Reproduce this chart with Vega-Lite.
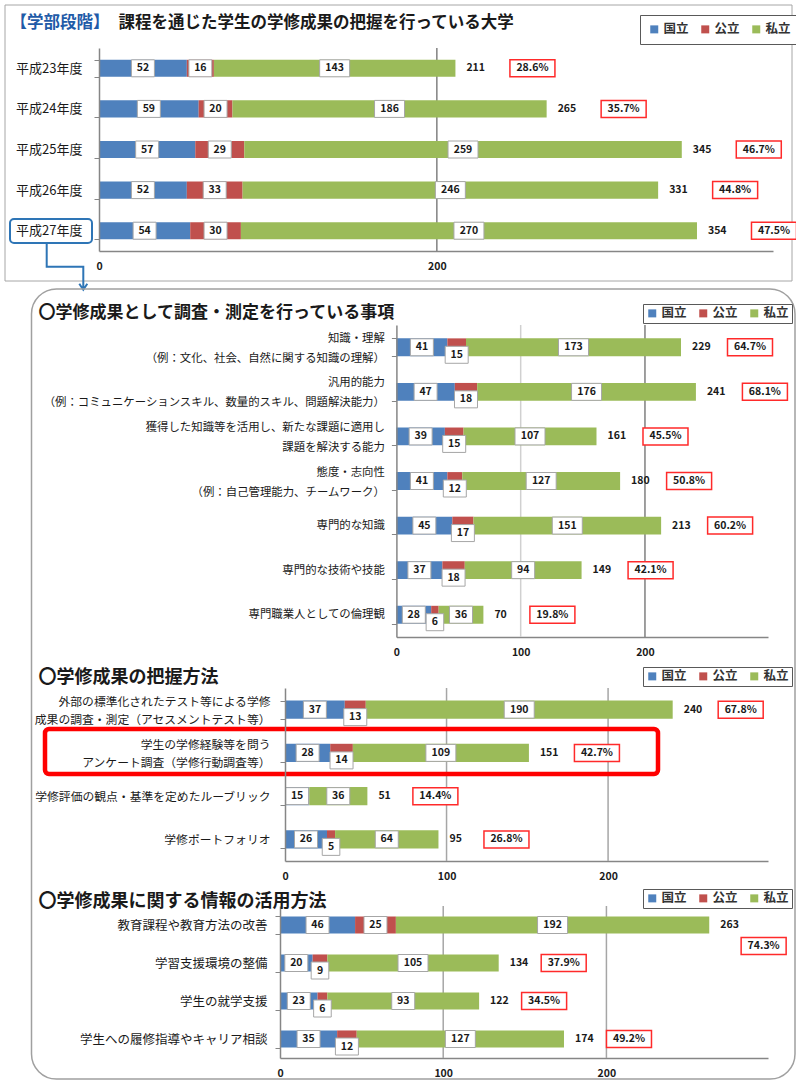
{
 "$schema": "https://vega.github.io/schema/vega-lite/v6.json",
 "autosize": {"type": "none"},
 "width": 796,
 "height": 1081,
 "padding": 0,
 "background": "white",
 "config": {
  "font": "Noto Sans CJK JP",
  "view": {"stroke": null},
  "axis": {"domainColor": "#868686", "domainWidth": 1.5, "tickColor": "#868686", "labelColor": "#1a1a1a", "titleColor": "#1a1a1a", "titleFontWeight": "bold", "labelLimit": 600, "titleLimit": 1000, "titleAngle": 0, "titleAlign": "left", "titleBaseline": "middle", "grid": false},
  "legend": {"orient": "none", "direction": "horizontal", "strokeColor": "#595959", "fillColor": "white", "symbolType": "square", "symbolSize": 64, "symbolStrokeWidth": 0, "labelFontSize": 12.5, "labelFontWeight": "bold", "labelColor": "#333333", "columnPadding": 10, "labelOffset": 3}
 },
 "datasets": {
  "seg1": [
   {"cat": "平成23年度", "s": "国立", "v": 52}, {"cat": "平成23年度", "s": "公立", "v": 16}, {"cat": "平成23年度", "s": "私立", "v": 143},
   {"cat": "平成24年度", "s": "国立", "v": 59}, {"cat": "平成24年度", "s": "公立", "v": 20}, {"cat": "平成24年度", "s": "私立", "v": 186},
   {"cat": "平成25年度", "s": "国立", "v": 57}, {"cat": "平成25年度", "s": "公立", "v": 29}, {"cat": "平成25年度", "s": "私立", "v": 259},
   {"cat": "平成26年度", "s": "国立", "v": 52}, {"cat": "平成26年度", "s": "公立", "v": 33}, {"cat": "平成26年度", "s": "私立", "v": 246},
   {"cat": "平成27年度", "s": "国立", "v": 54}, {"cat": "平成27年度", "s": "公立", "v": 30}, {"cat": "平成27年度", "s": "私立", "v": 270}
  ],
  "tot1": [
   {"cat": "平成23年度", "total": 211, "pct": "28.6%"},
   {"cat": "平成24年度", "total": 265, "pct": "35.7%"},
   {"cat": "平成25年度", "total": 345, "pct": "46.7%"},
   {"cat": "平成26年度", "total": 331, "pct": "44.8%"},
   {"cat": "平成27年度", "total": 354, "pct": "47.5%"}
  ],
  "seg2": [
   {"cat": "知識・理解\n（例：文化、社会、自然に関する知識の理解）", "s": "国立", "v": 41},
   {"cat": "知識・理解\n（例：文化、社会、自然に関する知識の理解）", "s": "公立", "v": 15},
   {"cat": "知識・理解\n（例：文化、社会、自然に関する知識の理解）", "s": "私立", "v": 173},
   {"cat": "汎用的能力\n（例：コミュニケーションスキル、数量的スキル、問題解決能力）", "s": "国立", "v": 47},
   {"cat": "汎用的能力\n（例：コミュニケーションスキル、数量的スキル、問題解決能力）", "s": "公立", "v": 18},
   {"cat": "汎用的能力\n（例：コミュニケーションスキル、数量的スキル、問題解決能力）", "s": "私立", "v": 176},
   {"cat": "獲得した知識等を活用し、新たな課題に適用し\n課題を解決する能力", "s": "国立", "v": 39},
   {"cat": "獲得した知識等を活用し、新たな課題に適用し\n課題を解決する能力", "s": "公立", "v": 15},
   {"cat": "獲得した知識等を活用し、新たな課題に適用し\n課題を解決する能力", "s": "私立", "v": 107},
   {"cat": "態度・志向性\n（例：自己管理能力、チームワーク）", "s": "国立", "v": 41},
   {"cat": "態度・志向性\n（例：自己管理能力、チームワーク）", "s": "公立", "v": 12},
   {"cat": "態度・志向性\n（例：自己管理能力、チームワーク）", "s": "私立", "v": 127},
   {"cat": "専門的な知識", "s": "国立", "v": 45}, {"cat": "専門的な知識", "s": "公立", "v": 17}, {"cat": "専門的な知識", "s": "私立", "v": 151},
   {"cat": "専門的な技術や技能", "s": "国立", "v": 37}, {"cat": "専門的な技術や技能", "s": "公立", "v": 18}, {"cat": "専門的な技術や技能", "s": "私立", "v": 94},
   {"cat": "専門職業人としての倫理観", "s": "国立", "v": 28}, {"cat": "専門職業人としての倫理観", "s": "公立", "v": 6}, {"cat": "専門職業人としての倫理観", "s": "私立", "v": 36}
  ],
  "tot2": [
   {"cat": "知識・理解\n（例：文化、社会、自然に関する知識の理解）", "total": 229, "pct": "64.7%"},
   {"cat": "汎用的能力\n（例：コミュニケーションスキル、数量的スキル、問題解決能力）", "total": 241, "pct": "68.1%"},
   {"cat": "獲得した知識等を活用し、新たな課題に適用し\n課題を解決する能力", "total": 161, "pct": "45.5%"},
   {"cat": "態度・志向性\n（例：自己管理能力、チームワーク）", "total": 180, "pct": "50.8%"},
   {"cat": "専門的な知識", "total": 213, "pct": "60.2%"},
   {"cat": "専門的な技術や技能", "total": 149, "pct": "42.1%"},
   {"cat": "専門職業人としての倫理観", "total": 70, "pct": "19.8%"}
  ],
  "seg3": [
   {"cat": "外部の標準化されたテスト等による学修\n成果の調査・測定（アセスメントテスト等）", "s": "国立", "v": 37},
   {"cat": "外部の標準化されたテスト等による学修\n成果の調査・測定（アセスメントテスト等）", "s": "公立", "v": 13},
   {"cat": "外部の標準化されたテスト等による学修\n成果の調査・測定（アセスメントテスト等）", "s": "私立", "v": 190},
   {"cat": "学生の学修経験等を問う\nアンケート調査（学修行動調査等）", "s": "国立", "v": 28},
   {"cat": "学生の学修経験等を問う\nアンケート調査（学修行動調査等）", "s": "公立", "v": 14},
   {"cat": "学生の学修経験等を問う\nアンケート調査（学修行動調査等）", "s": "私立", "v": 109},
   {"cat": "学修評価の観点・基準を定めたルーブリック", "s": "国立", "v": 15},
   {"cat": "学修評価の観点・基準を定めたルーブリック", "s": "私立", "v": 36},
   {"cat": "学修ポートフォリオ", "s": "国立", "v": 26}, {"cat": "学修ポートフォリオ", "s": "公立", "v": 5}, {"cat": "学修ポートフォリオ", "s": "私立", "v": 64}
  ],
  "tot3": [
   {"cat": "外部の標準化されたテスト等による学修\n成果の調査・測定（アセスメントテスト等）", "total": 240, "pct": "67.8%"},
   {"cat": "学生の学修経験等を問う\nアンケート調査（学修行動調査等）", "total": 151, "pct": "42.7%"},
   {"cat": "学修評価の観点・基準を定めたルーブリック", "total": 51, "pct": "14.4%"},
   {"cat": "学修ポートフォリオ", "total": 95, "pct": "26.8%"}
  ],
  "seg4": [
   {"cat": "教育課程や教育方法の改善", "s": "国立", "v": 46}, {"cat": "教育課程や教育方法の改善", "s": "公立", "v": 25}, {"cat": "教育課程や教育方法の改善", "s": "私立", "v": 192},
   {"cat": "学習支援環境の整備", "s": "国立", "v": 20}, {"cat": "学習支援環境の整備", "s": "公立", "v": 9}, {"cat": "学習支援環境の整備", "s": "私立", "v": 105},
   {"cat": "学生の就学支援", "s": "国立", "v": 23}, {"cat": "学生の就学支援", "s": "公立", "v": 6}, {"cat": "学生の就学支援", "s": "私立", "v": 93},
   {"cat": "学生への履修指導やキャリア相談", "s": "国立", "v": 35}, {"cat": "学生への履修指導やキャリア相談", "s": "公立", "v": 12}, {"cat": "学生への履修指導やキャリア相談", "s": "私立", "v": 127}
  ],
  "tot4": [
   {"cat": "教育課程や教育方法の改善", "total": 263, "pct": "74.3%"},
   {"cat": "学習支援環境の整備", "total": 134, "pct": "37.9%"},
   {"cat": "学生の就学支援", "total": 122, "pct": "34.5%"},
   {"cat": "学生への履修指導やキャリア相談", "total": 174, "pct": "49.2%"}
  ]
 },
 "layer": [
  {
   "layer": [
    {
     "data": {"name": "tot1"},
     "transform": [{"filter": "datum.cat === '平成23年度'"}],
     "mark": {"type": "point", "filled": false, "stroke": "#a6a6a6", "strokeWidth": 1, "opacity": 1, "size": 400, "shape": "M-9.4,-6.33H69.3V21.27H-9.4Z"},
     "encoding": {"x": {"datum": 0, "type": "quantitative"}, "y": {"field": "cat", "type": "nominal"}}
    },
    {
     "data": {"name": "tot1"},
     "transform": [{"filter": "datum.cat === '平成23年度'"}],
     "mark": {"type": "rule", "color": "#808080", "strokeWidth": 1.5, "yOffset": -20.3, "y2Offset": 20.3},
     "encoding": {"x": {"datum": 200, "type": "quantitative"}, "y": {"field": "cat", "type": "nominal"}, "y2": {"datum": "平成27年度"}}
    },
    {
     "data": {"name": "seg1"},
     "transform": [{"stack": "v", "groupby": ["cat"], "as": ["v0", "v1"]}],
     "mark": {"type": "bar"},
     "encoding": {
      "y": {"field": "cat", "type": "nominal", "scale": {"type": "band", "domain": ["平成23年度", "平成24年度", "平成25年度", "平成26年度", "平成27年度"], "range": [48, 251], "paddingInner": 0.58, "paddingOuter": 0.29},
       "axis": {"orient": "left", "offset": -99, "tickBand": "extent", "tickSize": 5, "labelPadding": 12, "labelFontSize": 13, "zindex": 1, "title": "【学部段階】", "titleX": -89, "titleY": 22, "titleFontSize": 16.5, "titleColor": "#1f5ba8"}},
      "x": {"field": "v0", "type": "quantitative", "scale": {"domain": [0, 399], "range": [99, 773], "nice": false, "zero": false},
       "axis": {"orient": "bottom", "offset": -830, "values": [0, 200], "grid": false, "ticks": false, "labelPadding": 10, "labelFontSize": 10.5, "labelFontWeight": "bold", "labelFlush": false, "title": "課程を通じた学生の学修成果の把握を行っている大学", "titleX": 118, "titleY": -229, "titleFontSize": 16.5}},
      "x2": {"field": "v1"},
      "color": {"field": "s", "type": "nominal", "scale": {"domain": ["国立", "公立", "私立"], "range": ["#4F81BD", "#C0504D", "#9BBB59"]}, "legend": {"title": null, "legendX": 640, "legendY": 15, "padding": 8}}
     }
    },
    {
     "data": {"name": "seg1"},
     "transform": [{"stack": "v", "groupby": ["cat"], "as": ["v0", "v1"]}, {"fold": ["v0", "v1"], "as": ["edge", "pos"]}, {"aggregate": [{"op": "mean", "field": "pos", "as": "mid"}], "groupby": ["cat", "s", "v"]}],
     "mark": {"type": "point", "filled": true, "fill": "white", "stroke": "#a6a6a6", "strokeWidth": 1, "opacity": 1, "size": 400},
     "encoding": {
      "x": {"field": "mid", "type": "quantitative"},
      "y": {"field": "cat", "type": "nominal"},
      "shape": {"condition": [{"test": "datum.v >= 100", "value": "M-1.5,-0.85H1.5V0.85H-1.5Z"}, {"test": "datum.v < 10", "value": "M-0.88,-0.85H0.88V0.85H-0.88Z"}], "value": "M-1.15,-0.85H1.15V0.85H-1.15Z"}
     }
    },
    {
     "data": {"name": "seg1"},
     "transform": [{"stack": "v", "groupby": ["cat"], "as": ["v0", "v1"]}, {"fold": ["v0", "v1"], "as": ["edge", "pos"]}, {"aggregate": [{"op": "mean", "field": "pos", "as": "mid"}], "groupby": ["cat", "s", "v"]}],
     "mark": {"type": "text", "fontSize": 10.5, "fontWeight": "bold", "color": "#1a1a1a"},
     "encoding": {"x": {"field": "mid", "type": "quantitative"}, "y": {"field": "cat", "type": "nominal"}, "text": {"field": "v", "type": "quantitative"}}
    },
    {
     "data": {"name": "tot1"},
     "mark": {"type": "text", "align": "left", "dx": 11, "fontSize": 10.5, "fontWeight": "bold", "color": "#1a1a1a"},
     "encoding": {"x": {"field": "total", "type": "quantitative"}, "y": {"field": "cat", "type": "nominal"}, "text": {"field": "total", "type": "quantitative"}}
    },
    {
     "data": {"name": "tot1"},
     "mark": {"type": "point", "filled": true, "fill": "white", "stroke": "#ff2a2a", "strokeWidth": 1.5, "opacity": 1, "size": 400, "shape": "M5.45,-0.85H9.95V0.85H5.45Z"},
     "encoding": {"x": {"field": "total", "type": "quantitative"}, "y": {"field": "cat", "type": "nominal"}}
    },
    {
     "data": {"name": "tot1"},
     "mark": {"type": "text", "align": "center", "dx": 77, "fontSize": 10.5, "fontWeight": "bold", "color": "#1a1a1a"},
     "encoding": {"x": {"field": "total", "type": "quantitative"}, "y": {"field": "cat", "type": "nominal"}, "text": {"field": "pct"}}
    },
    {
     "data": {"name": "tot1"},
     "transform": [{"filter": "datum.cat === '平成27年度'"}],
     "mark": {"type": "point", "filled": false, "stroke": "#2e75b6", "strokeWidth": 2, "opacity": 1, "size": 400, "shape": "M-8.5,-1.17H-1.1A0.4,0.4 0 0 1 -0.7,-0.77V0.83A0.4,0.4 0 0 1 -1.1,1.23H-8.5A0.4,0.4 0 0 1 -8.9,0.83V-0.77A0.4,0.4 0 0 1 -8.5,-1.17Z M-5.23,1.23V3.6H-1.57V5.85 M-1.97,5.3L-1.57,5.9L-1.17,5.3"},
     "encoding": {"x": {"datum": 0, "type": "quantitative"}, "y": {"field": "cat", "type": "nominal"}}
    }
   ]
  },
  {
   "layer": [
    {
     "data": {"name": "tot2"},
     "transform": [{"filter": "indexof(datum.cat, '知識・理解') === 0"}],
     "mark": {"type": "point", "filled": false, "stroke": "#a0a0a0", "strokeWidth": 1.5, "opacity": 1, "size": 400, "shape": "M-33.99,-5.83H37.36A2.5,2.5 0 0 1 39.86,-3.33V70.67A2.5,2.5 0 0 1 37.36,73.17H-33.99A2.5,2.5 0 0 1 -36.49,70.67V-3.33A2.5,2.5 0 0 1 -33.99,-5.83Z"},
     "encoding": {"x": {"datum": 0, "type": "quantitative"}, "y": {"field": "cat", "type": "nominal"}}
    },
    {
     "data": {"name": "tot2"},
     "transform": [{"filter": "indexof(datum.cat, '知識・理解') === 0"}],
     "mark": {"type": "rule", "color": "#d0d0d0", "strokeWidth": 1.5, "yOffset": -22.3, "y2Offset": 22.3},
     "encoding": {"x": {"datum": 100, "type": "quantitative"}, "y": {"field": "cat", "type": "nominal"}, "y2": {"datum": "専門職業人としての倫理観"}}
    },
    {
     "data": {"name": "tot2"},
     "transform": [{"filter": "indexof(datum.cat, '知識・理解') === 0"}],
     "mark": {"type": "rule", "color": "#7f7f7f", "strokeWidth": 1.5, "yOffset": -22.3, "y2Offset": 22.3},
     "encoding": {"x": {"datum": 200, "type": "quantitative"}, "y": {"field": "cat", "type": "nominal"}, "y2": {"datum": "専門職業人としての倫理観"}}
    },
    {
     "data": {"name": "seg2"},
     "transform": [{"stack": "v", "groupby": ["cat"], "as": ["v0", "v1"]}],
     "mark": {"type": "bar"},
     "encoding": {
      "y": {"field": "cat", "type": "nominal", "scale": {"type": "band", "domain": ["知識・理解\n（例：文化、社会、自然に関する知識の理解）", "汎用的能力\n（例：コミュニケーションスキル、数量的スキル、問題解決能力）", "獲得した知識等を活用し、新たな課題に適用し\n課題を解決する能力", "態度・志向性\n（例：自己管理能力、チームワーク）", "専門的な知識", "専門的な技術や技能", "専門職業人としての倫理観"], "range": [325, 637], "paddingInner": 0.6, "paddingOuter": 0.3},
       "axis": {"orient": "left", "offset": -396.4, "tickBand": "extent", "tickSize": 5, "labelPadding": 7, "labelFontSize": 11.4, "labelLineHeight": 20, "labelExpr": "split(datum.label, '\\n')", "labelOffset": {"condition": {"test": "indexof(datum.label, '\\n') >= 0", "value": -9}, "value": 0}, "zindex": 1, "title": "〇学修成果として調査・測定を行っている事項", "titleX": -358.4, "titleY": 312.7, "titleFontSize": 17}},
      "x": {"field": "v0", "type": "quantitative", "scale": {"domain": [0, 299], "range": [396.4, 768], "nice": false, "zero": false},
       "axis": {"orient": "bottom", "offset": -444, "values": [0, 100, 200], "grid": false, "ticks": false, "labelPadding": 10, "labelFontSize": 10.5, "labelFontWeight": "bold", "labelFlush": false, "title": null}},
      "x2": {"field": "v1"},
      "color": {"field": "s", "type": "nominal", "scale": {"domain": ["国立", "公立", "私立"], "range": ["#4F81BD", "#C0504D", "#9BBB59"]}, "legend": {"title": null, "legendX": 643, "legendY": 304, "padding": 3}}
     }
    },
    {
     "data": {"name": "seg2"},
     "transform": [{"stack": "v", "groupby": ["cat"], "as": ["v0", "v1"]}, {"fold": ["v0", "v1"], "as": ["edge", "pos"]}, {"aggregate": [{"op": "mean", "field": "pos", "as": "mid"}], "groupby": ["cat", "s", "v"]}],
     "mark": {"type": "point", "filled": true, "fill": "white", "stroke": "#a6a6a6", "strokeWidth": 1, "opacity": 1, "size": 400},
     "encoding": {
      "x": {"field": "mid", "type": "quantitative"},
      "y": {"field": "cat", "type": "nominal"},
      "shape": {"condition": [{"test": "datum.s === '公立' && datum.v < 10", "value": "M-0.88,-0.1H0.88V1.6H-0.88Z"}, {"test": "datum.s === '公立' && datum.v < 20", "value": "M-1.15,-0.1H1.15V1.6H-1.15Z"}, {"test": "datum.v >= 100", "value": "M-1.5,-0.85H1.5V0.85H-1.5Z"}, {"test": "datum.v < 10", "value": "M-0.88,-0.85H0.88V0.85H-0.88Z"}], "value": "M-1.15,-0.85H1.15V0.85H-1.15Z"}
     }
    },
    {
     "data": {"name": "seg2"},
     "transform": [{"stack": "v", "groupby": ["cat"], "as": ["v0", "v1"]}, {"fold": ["v0", "v1"], "as": ["edge", "pos"]}, {"aggregate": [{"op": "mean", "field": "pos", "as": "mid"}], "groupby": ["cat", "s", "v"]}, {"filter": "!(datum.s === '公立' && datum.v < 20)"}],
     "mark": {"type": "text", "fontSize": 10.5, "fontWeight": "bold", "color": "#1a1a1a"},
     "encoding": {"x": {"field": "mid", "type": "quantitative"}, "y": {"field": "cat", "type": "nominal"}, "text": {"field": "v", "type": "quantitative"}}
    },
    {
     "data": {"name": "seg2"},
     "transform": [{"stack": "v", "groupby": ["cat"], "as": ["v0", "v1"]}, {"fold": ["v0", "v1"], "as": ["edge", "pos"]}, {"aggregate": [{"op": "mean", "field": "pos", "as": "mid"}], "groupby": ["cat", "s", "v"]}, {"filter": "datum.s === '公立' && datum.v < 20"}],
     "mark": {"type": "text", "fontSize": 10.5, "fontWeight": "bold", "color": "#1a1a1a", "dy": 7.5},
     "encoding": {"x": {"field": "mid", "type": "quantitative"}, "y": {"field": "cat", "type": "nominal"}, "text": {"field": "v", "type": "quantitative"}}
    },
    {
     "data": {"name": "tot2"},
     "mark": {"type": "text", "align": "left", "dx": 11, "fontSize": 10.5, "fontWeight": "bold", "color": "#1a1a1a"},
     "encoding": {"x": {"field": "total", "type": "quantitative"}, "y": {"field": "cat", "type": "nominal"}, "text": {"field": "total", "type": "quantitative"}}
    },
    {
     "data": {"name": "tot2"},
     "mark": {"type": "point", "filled": true, "fill": "white", "stroke": "#ff2a2a", "strokeWidth": 1.5, "opacity": 1, "size": 400, "shape": "M4.65,-0.85H9.15V0.85H4.65Z"},
     "encoding": {"x": {"field": "total", "type": "quantitative"}, "y": {"field": "cat", "type": "nominal"}}
    },
    {
     "data": {"name": "tot2"},
     "mark": {"type": "text", "align": "center", "dx": 69, "fontSize": 10.5, "fontWeight": "bold", "color": "#1a1a1a"},
     "encoding": {"x": {"field": "total", "type": "quantitative"}, "y": {"field": "cat", "type": "nominal"}, "text": {"field": "pct"}}
    }
   ]
  },
  {
   "layer": [
    {
     "data": {"name": "tot3"},
     "transform": [{"filter": "indexof(datum.cat, '外部の') === 0"}],
     "mark": {"type": "rule", "color": "#a6a6a6", "strokeWidth": 1.5, "yOffset": -21.6, "y2Offset": 21.6},
     "encoding": {"x": {"datum": 100, "type": "quantitative"}, "y": {"field": "cat", "type": "nominal"}, "y2": {"datum": "学修ポートフォリオ"}}
    },
    {
     "data": {"name": "tot3"},
     "transform": [{"filter": "indexof(datum.cat, '外部の') === 0"}],
     "mark": {"type": "rule", "color": "#a6a6a6", "strokeWidth": 1.5, "yOffset": -21.6, "y2Offset": 21.6},
     "encoding": {"x": {"datum": 200, "type": "quantitative"}, "y": {"field": "cat", "type": "nominal"}, "y2": {"datum": "学修ポートフォリオ"}}
    },
    {
     "data": {"name": "seg3"},
     "transform": [{"stack": "v", "groupby": ["cat"], "as": ["v0", "v1"]}],
     "mark": {"type": "bar"},
     "encoding": {
      "y": {"field": "cat", "type": "nominal", "scale": {"type": "band", "domain": ["外部の標準化されたテスト等による学修\n成果の調査・測定（アセスメントテスト等）", "学生の学修経験等を問う\nアンケート調査（学修行動調査等）", "学修評価の観点・基準を定めたルーブリック", "学修ポートフォリオ"], "range": [688, 861], "paddingInner": 0.58, "paddingOuter": 0.29},
       "axis": {"orient": "left", "offset": -285, "tickBand": "extent", "tickSize": 5, "labelPadding": 10, "labelFontSize": 11.8, "labelLineHeight": 18.5, "labelExpr": "split(datum.label, '\\n')", "labelOffset": {"condition": {"test": "indexof(datum.label, '\\n') >= 0", "value": -8.5}, "value": 0}, "zindex": 1, "title": "〇学修成果の把握方法", "titleX": -247, "titleY": 677, "titleFontSize": 18}},
      "x": {"field": "v0", "type": "quantitative", "scale": {"domain": [0, 299], "range": [285, 768], "nice": false, "zero": false},
       "axis": {"orient": "bottom", "offset": -220, "values": [0, 100, 200], "grid": false, "ticks": false, "labelPadding": 10, "labelFontSize": 10.5, "labelFontWeight": "bold", "labelFlush": false, "title": null}},
      "x2": {"field": "v1"},
      "color": {"field": "s", "type": "nominal", "scale": {"domain": ["国立", "公立", "私立"], "range": ["#4F81BD", "#C0504D", "#9BBB59"]}, "legend": {"title": null, "legendX": 643, "legendY": 667, "padding": 3}}
     }
    },
    {
     "data": {"name": "seg3"},
     "transform": [{"stack": "v", "groupby": ["cat"], "as": ["v0", "v1"]}, {"fold": ["v0", "v1"], "as": ["edge", "pos"]}, {"aggregate": [{"op": "mean", "field": "pos", "as": "mid"}], "groupby": ["cat", "s", "v"]}],
     "mark": {"type": "point", "filled": true, "fill": "white", "stroke": "#a6a6a6", "strokeWidth": 1, "opacity": 1, "size": 400},
     "encoding": {
      "x": {"field": "mid", "type": "quantitative"},
      "y": {"field": "cat", "type": "nominal"},
      "shape": {"condition": [{"test": "datum.s === '公立' && datum.v < 10", "value": "M-0.88,-0.1H0.88V1.6H-0.88Z"}, {"test": "datum.s === '公立' && datum.v < 20", "value": "M-1.15,-0.1H1.15V1.6H-1.15Z"}, {"test": "datum.v >= 100", "value": "M-1.5,-0.85H1.5V0.85H-1.5Z"}, {"test": "datum.v < 10", "value": "M-0.88,-0.85H0.88V0.85H-0.88Z"}], "value": "M-1.15,-0.85H1.15V0.85H-1.15Z"}
     }
    },
    {
     "data": {"name": "seg3"},
     "transform": [{"stack": "v", "groupby": ["cat"], "as": ["v0", "v1"]}, {"fold": ["v0", "v1"], "as": ["edge", "pos"]}, {"aggregate": [{"op": "mean", "field": "pos", "as": "mid"}], "groupby": ["cat", "s", "v"]}, {"filter": "!(datum.s === '公立' && datum.v < 20)"}],
     "mark": {"type": "text", "fontSize": 10.5, "fontWeight": "bold", "color": "#1a1a1a"},
     "encoding": {"x": {"field": "mid", "type": "quantitative"}, "y": {"field": "cat", "type": "nominal"}, "text": {"field": "v", "type": "quantitative"}}
    },
    {
     "data": {"name": "seg3"},
     "transform": [{"stack": "v", "groupby": ["cat"], "as": ["v0", "v1"]}, {"fold": ["v0", "v1"], "as": ["edge", "pos"]}, {"aggregate": [{"op": "mean", "field": "pos", "as": "mid"}], "groupby": ["cat", "s", "v"]}, {"filter": "datum.s === '公立' && datum.v < 20"}],
     "mark": {"type": "text", "fontSize": 10.5, "fontWeight": "bold", "color": "#1a1a1a", "dy": 7.5},
     "encoding": {"x": {"field": "mid", "type": "quantitative"}, "y": {"field": "cat", "type": "nominal"}, "text": {"field": "v", "type": "quantitative"}}
    },
    {
     "data": {"name": "tot3"},
     "mark": {"type": "text", "align": "left", "dx": 11, "fontSize": 10.5, "fontWeight": "bold", "color": "#1a1a1a"},
     "encoding": {"x": {"field": "total", "type": "quantitative"}, "y": {"field": "cat", "type": "nominal"}, "text": {"field": "total", "type": "quantitative"}}
    },
    {
     "data": {"name": "tot3"},
     "mark": {"type": "point", "filled": true, "fill": "white", "stroke": "#ff2a2a", "strokeWidth": 1.5, "opacity": 1, "size": 400, "shape": "M4.55,-0.85H9.05V0.85H4.55Z"},
     "encoding": {"x": {"field": "total", "type": "quantitative"}, "y": {"field": "cat", "type": "nominal"}}
    },
    {
     "data": {"name": "tot3"},
     "mark": {"type": "text", "align": "center", "dx": 68, "fontSize": 10.5, "fontWeight": "bold", "color": "#1a1a1a"},
     "encoding": {"x": {"field": "total", "type": "quantitative"}, "y": {"field": "cat", "type": "nominal"}, "text": {"field": "pct"}}
    },
    {
     "data": {"name": "tot3"},
     "transform": [{"filter": "indexof(datum.cat, 'アンケート') >= 0"}],
     "mark": {"type": "point", "filled": false, "stroke": "#ff0000", "strokeWidth": 4.5, "opacity": 1, "size": 400, "shape": "M-23.6,-2.39H36.9A0.4,0.4 0 0 1 37.3,-1.99V1.71A0.4,0.4 0 0 1 36.9,2.11H-23.6A0.4,0.4 0 0 1 -24,1.71V-1.99A0.4,0.4 0 0 1 -23.6,-2.39Z"},
     "encoding": {"x": {"datum": 0, "type": "quantitative"}, "y": {"field": "cat", "type": "nominal"}}
    }
   ]
  },
  {
   "layer": [
    {
     "data": {"name": "tot4"},
     "transform": [{"filter": "datum.cat === '教育課程や教育方法の改善'"}],
     "mark": {"type": "rule", "color": "#a6a6a6", "strokeWidth": 1.5, "yOffset": -19, "y2Offset": 19},
     "encoding": {"x": {"datum": 100, "type": "quantitative"}, "y": {"field": "cat", "type": "nominal"}, "y2": {"datum": "学生への履修指導やキャリア相談"}}
    },
    {
     "data": {"name": "tot4"},
     "transform": [{"filter": "datum.cat === '教育課程や教育方法の改善'"}],
     "mark": {"type": "rule", "color": "#a6a6a6", "strokeWidth": 1.5, "yOffset": -19, "y2Offset": 19},
     "encoding": {"x": {"datum": 200, "type": "quantitative"}, "y": {"field": "cat", "type": "nominal"}, "y2": {"datum": "学生への履修指導やキャリア相談"}}
    },
    {
     "data": {"name": "seg4"},
     "transform": [{"stack": "v", "groupby": ["cat"], "as": ["v0", "v1"]}],
     "mark": {"type": "bar"},
     "encoding": {
      "y": {"field": "cat", "type": "nominal", "scale": {"type": "band", "domain": ["教育課程や教育方法の改善", "学習支援環境の整備", "学生の就学支援", "学生への履修指導やキャリア相談"], "range": [906, 1058], "paddingInner": 0.55, "paddingOuter": 0.275},
       "axis": {"orient": "left", "offset": -280, "tickBand": "extent", "tickSize": 5, "labelPadding": 8, "labelFontSize": 12.5, "zindex": 1, "title": "〇学修成果に関する情報の活用方法", "titleX": -242, "titleY": 901, "titleFontSize": 18}},
      "x": {"field": "v0", "type": "quantitative", "scale": {"domain": [0, 299], "range": [280, 768], "nice": false, "zero": false},
       "axis": {"orient": "bottom", "offset": -23, "values": [0, 100, 200], "grid": false, "ticks": false, "labelPadding": 10, "labelFontSize": 10.5, "labelFontWeight": "bold", "labelFlush": false, "title": null}},
      "x2": {"field": "v1"},
      "color": {"field": "s", "type": "nominal", "scale": {"domain": ["国立", "公立", "私立"], "range": ["#4F81BD", "#C0504D", "#9BBB59"]}, "legend": {"title": null, "legendX": 643, "legendY": 889, "padding": 3}}
     }
    },
    {
     "data": {"name": "seg4"},
     "transform": [{"stack": "v", "groupby": ["cat"], "as": ["v0", "v1"]}, {"fold": ["v0", "v1"], "as": ["edge", "pos"]}, {"aggregate": [{"op": "mean", "field": "pos", "as": "mid"}], "groupby": ["cat", "s", "v"]}],
     "mark": {"type": "point", "filled": true, "fill": "white", "stroke": "#a6a6a6", "strokeWidth": 1, "opacity": 1, "size": 400},
     "encoding": {
      "x": {"field": "mid", "type": "quantitative"},
      "y": {"field": "cat", "type": "nominal"},
      "shape": {"condition": [{"test": "datum.s === '公立' && datum.v < 10", "value": "M-0.88,-0.1H0.88V1.6H-0.88Z"}, {"test": "datum.s === '公立' && datum.v < 20", "value": "M-1.15,-0.1H1.15V1.6H-1.15Z"}, {"test": "datum.v >= 100", "value": "M-1.5,-0.85H1.5V0.85H-1.5Z"}, {"test": "datum.v < 10", "value": "M-0.88,-0.85H0.88V0.85H-0.88Z"}], "value": "M-1.15,-0.85H1.15V0.85H-1.15Z"}
     }
    },
    {
     "data": {"name": "seg4"},
     "transform": [{"stack": "v", "groupby": ["cat"], "as": ["v0", "v1"]}, {"fold": ["v0", "v1"], "as": ["edge", "pos"]}, {"aggregate": [{"op": "mean", "field": "pos", "as": "mid"}], "groupby": ["cat", "s", "v"]}, {"filter": "!(datum.s === '公立' && datum.v < 20)"}],
     "mark": {"type": "text", "fontSize": 10.5, "fontWeight": "bold", "color": "#1a1a1a"},
     "encoding": {"x": {"field": "mid", "type": "quantitative"}, "y": {"field": "cat", "type": "nominal"}, "text": {"field": "v", "type": "quantitative"}}
    },
    {
     "data": {"name": "seg4"},
     "transform": [{"stack": "v", "groupby": ["cat"], "as": ["v0", "v1"]}, {"fold": ["v0", "v1"], "as": ["edge", "pos"]}, {"aggregate": [{"op": "mean", "field": "pos", "as": "mid"}], "groupby": ["cat", "s", "v"]}, {"filter": "datum.s === '公立' && datum.v < 20"}],
     "mark": {"type": "text", "fontSize": 10.5, "fontWeight": "bold", "color": "#1a1a1a", "dy": 7.5},
     "encoding": {"x": {"field": "mid", "type": "quantitative"}, "y": {"field": "cat", "type": "nominal"}, "text": {"field": "v", "type": "quantitative"}}
    },
    {
     "data": {"name": "tot4"},
     "mark": {"type": "text", "align": "left", "dx": 11, "fontSize": 10.5, "fontWeight": "bold", "color": "#1a1a1a"},
     "encoding": {"x": {"field": "total", "type": "quantitative"}, "y": {"field": "cat", "type": "nominal"}, "text": {"field": "total", "type": "quantitative"}}
    },
    {
     "data": {"name": "tot4"},
     "transform": [{"filter": "datum.total <= 250"}],
     "mark": {"type": "point", "filled": true, "fill": "white", "stroke": "#ff2a2a", "strokeWidth": 1.5, "opacity": 1, "size": 400, "shape": "M4.25,-0.85H8.75V0.85H4.25Z"},
     "encoding": {"x": {"field": "total", "type": "quantitative"}, "y": {"field": "cat", "type": "nominal"}}
    },
    {
     "data": {"name": "tot4"},
     "transform": [{"filter": "datum.total <= 250"}],
     "mark": {"type": "text", "align": "center", "dx": 65, "fontSize": 10.5, "fontWeight": "bold", "color": "#1a1a1a"},
     "encoding": {"x": {"field": "total", "type": "quantitative"}, "y": {"field": "cat", "type": "nominal"}, "text": {"field": "pct"}}
    },
    {
     "data": {"name": "tot4"},
     "transform": [{"filter": "datum.total > 250"}],
     "mark": {"type": "point", "filled": true, "fill": "white", "stroke": "#ff2a2a", "strokeWidth": 1.5, "opacity": 1, "size": 400, "shape": "M3.19,1.25H7.69V2.95H3.19Z"},
     "encoding": {"x": {"field": "total", "type": "quantitative"}, "y": {"field": "cat", "type": "nominal"}}
    },
    {
     "data": {"name": "tot4"},
     "transform": [{"filter": "datum.total > 250"}],
     "mark": {"type": "text", "align": "center", "dx": 54.4, "dy": 21, "fontSize": 10.5, "fontWeight": "bold", "color": "#1a1a1a"},
     "encoding": {"x": {"field": "total", "type": "quantitative"}, "y": {"field": "cat", "type": "nominal"}, "text": {"field": "pct"}}
    }
   ]
  }
 ],
 "resolve": {"scale": {"x": "independent", "y": "independent", "color": "independent"}}
}
